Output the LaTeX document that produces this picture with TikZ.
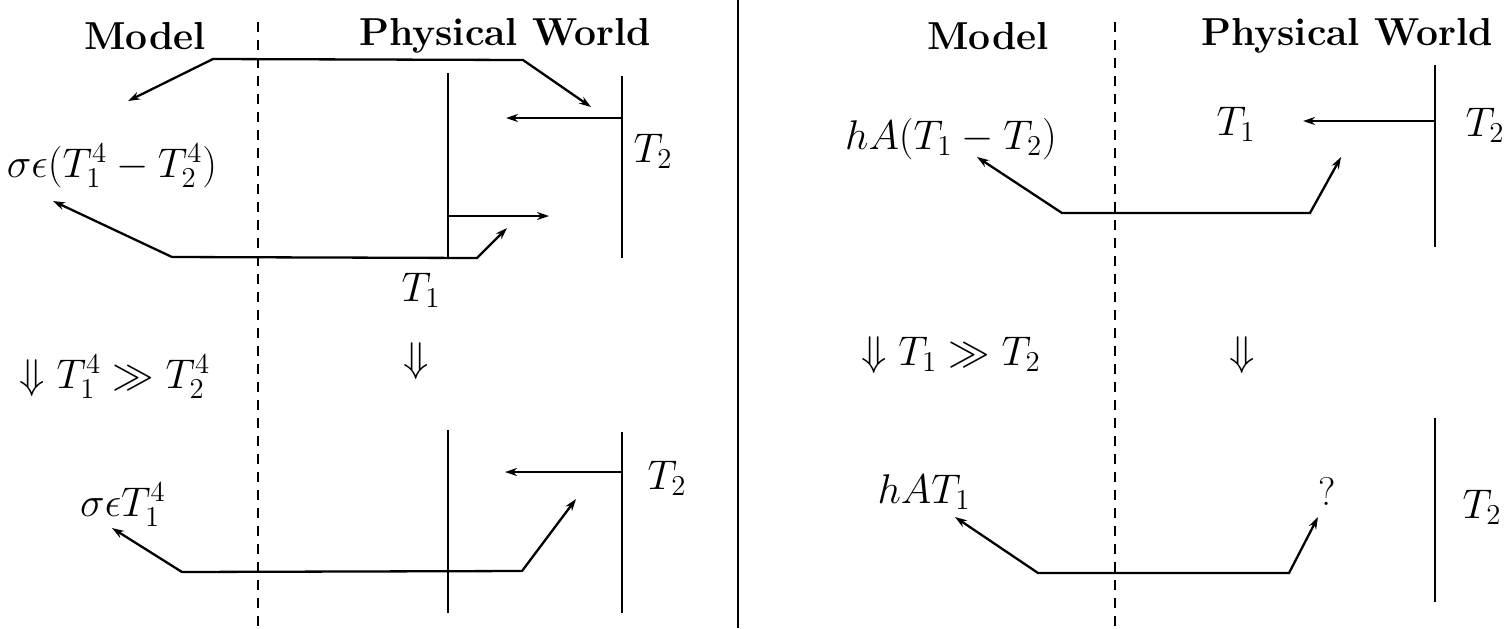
\documentclass[tikz,border=0pt]{standalone}
\usepackage{fontspec}
\usetikzlibrary{arrows.meta}
\begin{document}
\begin{tikzpicture}[x=0.5pt,y=-0.5pt,
  lbl/.style={inner sep=0pt, font=\fontsize{20}{24}\selectfont},
  head/.style={inner sep=0pt, font=\fontsize{19.5}{23}\selectfont\bfseries},
  wall/.style={line width=1.15pt},
  divider/.style={line width=1pt},
  sep/.style={line width=1.15pt, dash pattern=on 5pt off 4pt},
  flow/.style={line width=1.15pt, line join=miter},
  arr/.style={flow, -{Stealth[length=6pt,width=4pt]}},
  darr/.style={flow, {Stealth[length=6pt,width=4pt]}-{Stealth[length=6pt,width=4pt]}}]
\useasboundingbox (0,0) rectangle (1505,628);

% ---------- left panel ----------
\node[head] (modelL) at (145,36) {Model};
\node[head] (physL) at (505,36) {Physical World};
\node[lbl] (radA) at (112,166) {$\sigma\epsilon(T_1^4-T_2^4)$};
\node[lbl] (t2a) at (653,151) {$T_2$};
\node[lbl] (t1a) at (421,290) {$T_1$};
\node[lbl] (implL) at (416,361) {$\Downarrow$};
\node[lbl] (condL) at (115,377) {$\Downarrow T_1^4\gg T_2^4$};
\node[lbl] (radB) at (123,505) {$\sigma\epsilon T_1^4$};
\node[lbl] (t2b) at (667,478) {$T_2$};

\coordinate (sepLt) at (258,22);  \coordinate (sepLb) at (258,628);
\coordinate (divT) at (738,0);    \coordinate (divB) at (738,628);
\draw[sep] (sepLt) -- (sepLb);
\draw[divider] (divT) -- (divB);

% upper left scene
\coordinate (w1t) at (448,73);  \coordinate (w1b) at (448,258);
\coordinate (w2t) at (622,76);  \coordinate (w2b) at (622,258);
\draw[wall] (w1t) -- (w1b);
\draw[wall] (w2t) -- (w2b);
\coordinate (e2s) at (622,118); \coordinate (e2e) at (506,118);
\draw[arr] (e2s) -- (e2e);
\coordinate (e1s) at (448,216); \coordinate (e1e) at (549,216);
\draw[arr] (e1s) -- (e1e);
\coordinate (pa0) at (128,101); \coordinate (pa1) at (213,59);
\coordinate (pa2) at (523,60);  \coordinate (pa3) at (591,107);
\draw[darr] (pa0) -- (pa1) -- (pa2) -- (pa3);
\coordinate (pb0) at (53,201);  \coordinate (pb1) at (172,257);
\coordinate (pb2) at (477,258); \coordinate (pb3) at (507,228);
\draw[darr] (pb0) -- (pb1) -- (pb2) -- (pb3);

% lower left scene
\coordinate (w3t) at (448,430); \coordinate (w3b) at (448,613);
\coordinate (w4t) at (622,432); \coordinate (w4b) at (622,613);
\draw[wall] (w3t) -- (w3b);
\draw[wall] (w4t) -- (w4b);
\coordinate (e4s) at (622,472); \coordinate (e4e) at (505,472);
\draw[arr] (e4s) -- (e4e);
\coordinate (pc0) at (112,528); \coordinate (pc1) at (182,572);
\coordinate (pc2) at (522,571); \coordinate (pc3) at (576,499);
\draw[darr] (pc0) -- (pc1) -- (pc2) -- (pc3);

% ---------- right panel ----------
\node[head] (modelR) at (988,36) {Model};
\node[head] (physR) at (1347,36) {Physical World};
\node[lbl] (convA) at (951,139) {$hA(T_1-T_2)$};
\node[lbl] (t1c) at (1236,124) {$T_1$};
\node[lbl] (t2c) at (1485,125) {$T_2$};
\node[lbl] (condR) at (951,355) {$\Downarrow T_1\gg T_2$};
\node[lbl] (implR) at (1242,355) {$\Downarrow$};
\node[lbl] (convB) at (924,492) {$hAT_1$};
\node[lbl] (qm) at (1327,491) {?};
\node[lbl] (t2d) at (1482,507) {$T_2$};

\coordinate (sepRt) at (1115,22); \coordinate (sepRb) at (1115,628);
\draw[sep] (sepRt) -- (sepRb);

\coordinate (w5t) at (1435,65); \coordinate (w5b) at (1435,247);
\draw[wall] (w5t) -- (w5b);
\coordinate (e5s) at (1435,121); \coordinate (e5e) at (1303,121);
\draw[arr] (e5s) -- (e5e);
\coordinate (pd0) at (977,157);  \coordinate (pd1) at (1062,213);
\coordinate (pd2) at (1310,213); \coordinate (pd3) at (1341,157);
\draw[darr] (pd0) -- (pd1) -- (pd2) -- (pd3);

\coordinate (w6t) at (1435,418); \coordinate (w6b) at (1435,602);
\draw[wall] (w6t) -- (w6b);
\coordinate (pe0) at (955,517);  \coordinate (pe1) at (1038,573);
\coordinate (pe2) at (1289,573); \coordinate (pe3) at (1318,517);
\draw[darr] (pe0) -- (pe1) -- (pe2) -- (pe3);
\end{tikzpicture}
\end{document}
